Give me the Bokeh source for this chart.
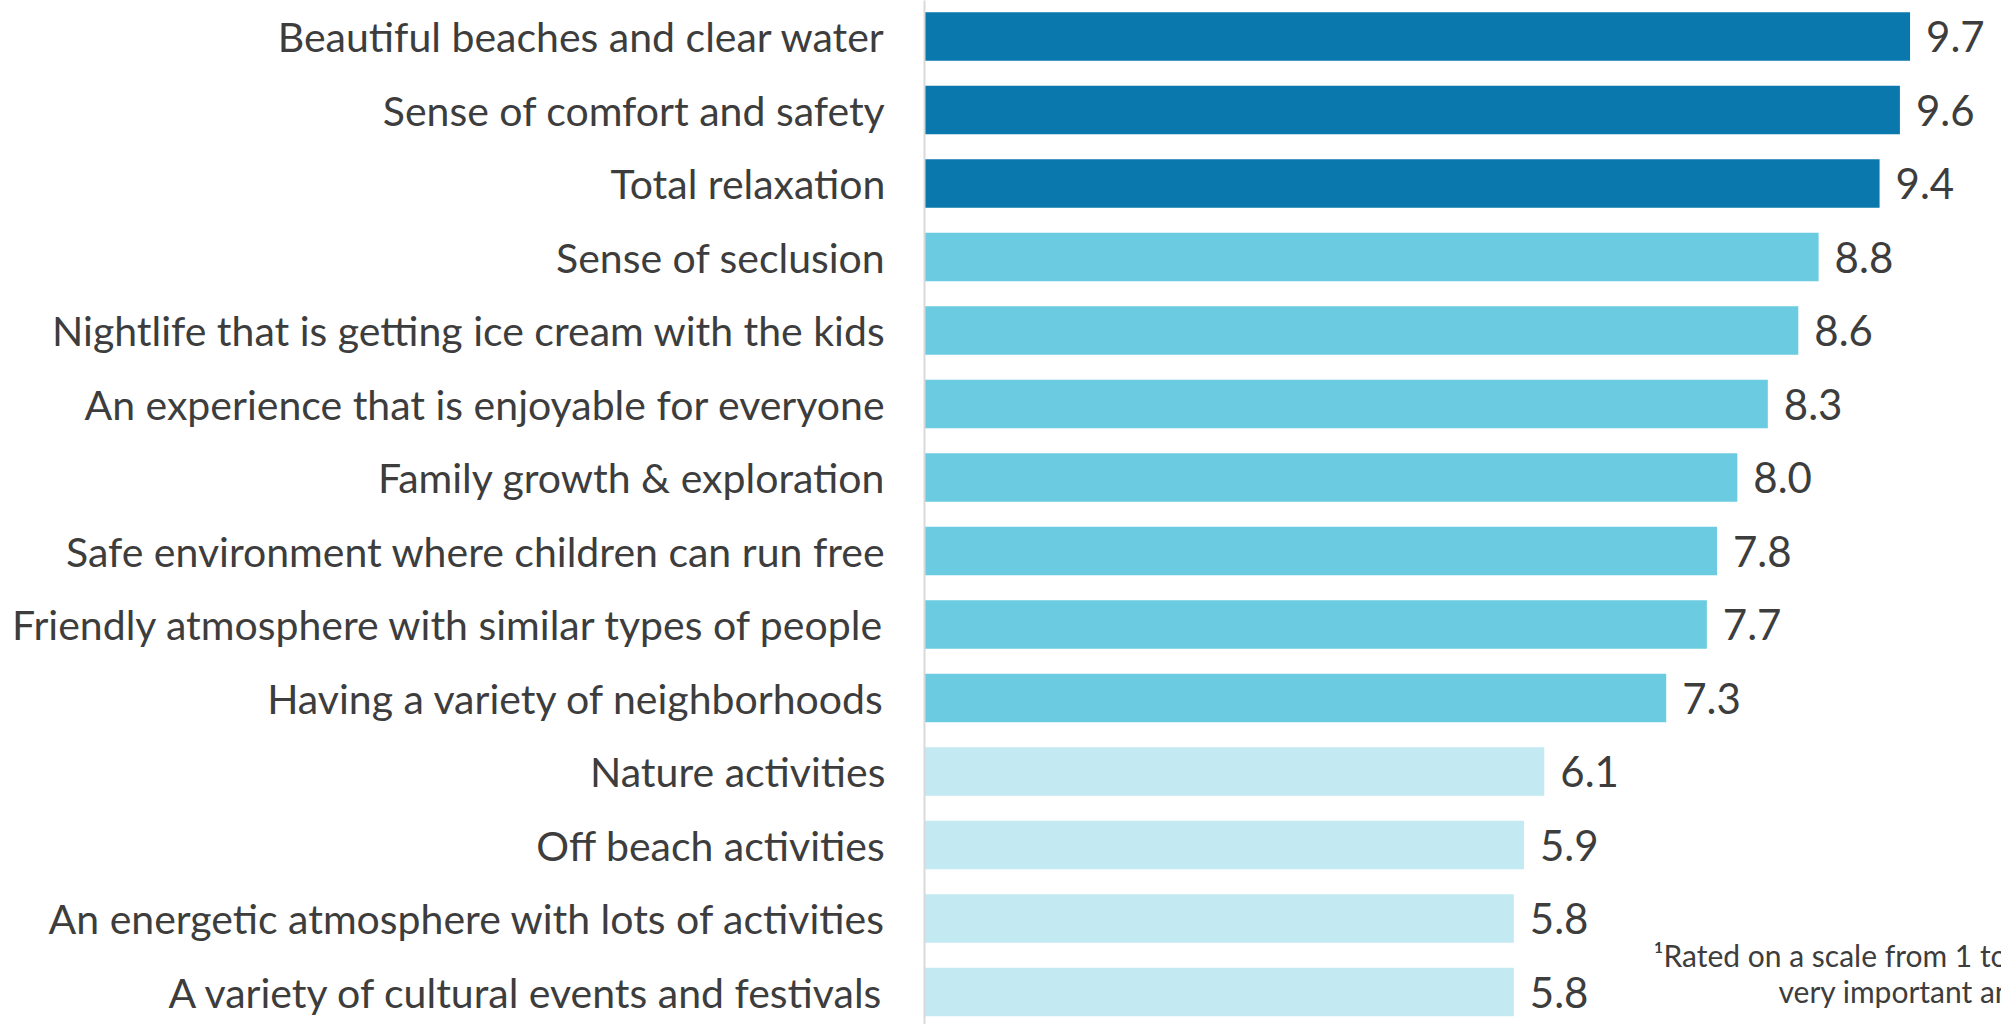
from bokeh.plotting import figure
from bokeh.models import ColumnDataSource, Range1d, FixedTicker, Label
from bokeh.embed import file_html
from bokeh.resources import INLINE
from bokeh.core.properties import value

categories = [
    "Beautiful beaches and clear water",
    "Sense of comfort and safety",
    "Total relaxation",
    "Sense of seclusion",
    "Nightlife that is getting ice cream with the kids",
    "An experience that is enjoyable for everyone",
    "Family growth & exploration",
    "Safe environment where children can run free",
    "Friendly atmosphere with similar types of people",
    "Having a variety of neighborhoods",
    "Nature activities",
    "Off beach activities",
    "An energetic atmosphere with lots of activities",
    "A variety of cultural events and festivals",
]
values = [9.7, 9.6, 9.4, 8.8, 8.6, 8.3, 8.0, 7.8, 7.7, 7.3, 6.1, 5.9, 5.8, 5.8]
tiers = ["top", "top", "top", "mid", "mid", "mid", "mid", "mid", "mid", "mid",
         "low", "low", "low", "low"]
tier_colors = {"top": "#0A77AD", "mid": "#6ACBE1", "low": "#C3E9F2"}
footnote_lines = ["\u00b9Rated on a scale from 1 to 10, where 10 is",
                  "very important and 1 is not at all important"]

FONT = "Lato"
TEXT_COLOR = "#3d3d3d"

pos = list(range(len(categories)))
src = ColumnDataSource(dict(
    y=pos,
    v=values,
    lbl=[f"{x:.1f}" for x in values],
    color=[tier_colors[t] for t in tiers],
))

p = figure(width=2001, height=1024, output_backend="svg", toolbar_location=None,
           x_range=Range1d(0, 10.6), y_range=Range1d(13.442, -0.49),
           min_border_left=924, min_border_right=0, min_border_top=0, min_border_bottom=0)
p.outline_line_color = None
p.xgrid.visible = False
p.ygrid.visible = False
p.xaxis.visible = False
p.background_fill_color = "white"
p.border_fill_color = "white"

p.hbar(y="y", right="v", left=0, height=0.66, color="color", line_color=None, source=src)
p.text(x="v", y="y", text="lbl", source=src, x_offset=16, text_baseline="middle",
       text_align="left", text_font=value(FONT), text_font_size="42px", text_color=TEXT_COLOR)

yax = p.yaxis[0]
yax.ticker = FixedTicker(ticks=pos)
yax.major_label_overrides = {i: c for i, c in enumerate(categories)}
yax.major_tick_line_color = None
yax.minor_tick_line_color = None
yax.axis_line_color = "#d9d9d9"
yax.axis_line_width = 2
yax.major_label_standoff = 33
yax.major_label_text_font = FONT
yax.major_label_text_font_size = "41px"
yax.major_label_text_color = TEXT_COLOR

p.add_layout(Label(x=7.175, y=12.49, text=footnote_lines[0], text_font=FONT,
                   text_font_size="30px", text_color=TEXT_COLOR, text_baseline="alphabetic"))
p.add_layout(Label(x=8.405, y=12.99, text=footnote_lines[1], text_font=FONT,
                   text_font_size="30px", text_color=TEXT_COLOR, text_baseline="alphabetic"))

open("out.html", "w").write(file_html(p, INLINE))
